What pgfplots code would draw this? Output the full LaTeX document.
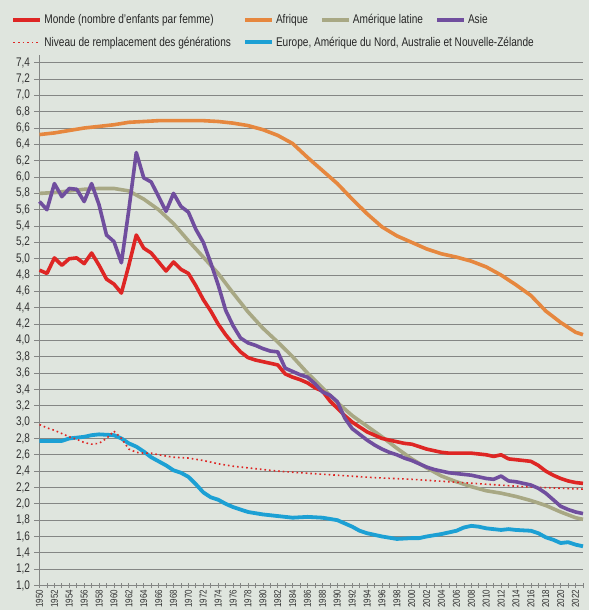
\documentclass[border=0pt]{standalone}
\usepackage{pgfplots}
\pgfplotsset{compat=1.18}
\usepackage{pgfplotstable}
\usepackage{fontspec}
\setmainfont[FakeStretch=0.8]{Liberation Sans}
\definecolor{bg}{RGB}{223,229,222}
\definecolor{gridc}{RGB}{132,134,132}
\definecolor{cred}{RGB}{222,38,36}
\definecolor{corange}{RGB}{230,135,62}
\definecolor{ckhaki}{RGB}{168,168,132}
\definecolor{cpurple}{RGB}{112,78,158}
\definecolor{cblue}{RGB}{28,160,212}
\definecolor{txt}{RGB}{50,50,50}

\pgfplotstableread{
year val
1950 4.86
1951 4.82
1952 5.01
1953 4.92
1954 5.00
1955 5.01
1956 4.94
1957 5.07
1958 4.92
1959 4.75
1960 4.69
1961 4.58
1962 4.92
1963 5.29
1964 5.13
1965 5.07
1966 4.96
1967 4.85
1968 4.96
1969 4.87
1970 4.82
1971 4.67
1972 4.50
1973 4.36
1974 4.20
1975 4.07
1976 3.96
1977 3.86
1978 3.79
1979 3.76
1980 3.74
1981 3.72
1982 3.70
1983 3.59
1984 3.55
1985 3.52
1986 3.48
1987 3.42
1988 3.38
1989 3.26
1990 3.17
1991 3.08
1992 3.00
1993 2.94
1994 2.88
1995 2.84
1996 2.80
1997 2.78
1998 2.76
1999 2.74
2000 2.73
2001 2.70
2002 2.67
2003 2.65
2004 2.63
2005 2.62
2006 2.62
2007 2.62
2008 2.62
2009 2.61
2010 2.60
2011 2.58
2012 2.60
2013 2.55
2014 2.54
2015 2.53
2016 2.52
2017 2.47
2018 2.40
2019 2.35
2020 2.31
2021 2.28
2022 2.26
2023 2.25
}\world

\pgfplotstableread{
year val
1950 6.52
1952 6.54
1954 6.57
1956 6.60
1958 6.62
1960 6.64
1962 6.67
1964 6.68
1966 6.69
1968 6.69
1970 6.69
1972 6.69
1974 6.68
1976 6.66
1978 6.63
1980 6.58
1982 6.51
1984 6.41
1986 6.24
1988 6.08
1990 5.92
1992 5.73
1994 5.55
1996 5.39
1998 5.28
2000 5.20
2002 5.12
2004 5.06
2006 5.02
2008 4.97
2010 4.90
2012 4.80
2014 4.68
2016 4.55
2018 4.36
2020 4.22
2022 4.10
2023 4.07
}\africa

\pgfplotstableread{
year val
1950 5.80
1952 5.81
1954 5.83
1956 5.85
1958 5.86
1960 5.86
1962 5.83
1964 5.73
1966 5.60
1968 5.43
1970 5.22
1972 5.02
1974 4.82
1976 4.58
1978 4.35
1980 4.15
1982 3.98
1984 3.80
1986 3.60
1988 3.42
1990 3.24
1992 3.08
1994 2.95
1996 2.82
1998 2.68
2000 2.55
2002 2.44
2004 2.34
2006 2.27
2008 2.21
2010 2.16
2012 2.13
2014 2.09
2016 2.04
2018 1.98
2020 1.90
2022 1.83
2023 1.81
}\latam

\pgfplotstableread{
year val
1950 5.70
1951 5.60
1952 5.92
1953 5.76
1954 5.86
1955 5.85
1956 5.70
1957 5.92
1958 5.66
1959 5.29
1960 5.21
1961 4.95
1962 5.60
1963 6.30
1964 5.99
1965 5.94
1966 5.76
1967 5.58
1968 5.80
1969 5.64
1970 5.57
1971 5.36
1972 5.20
1973 4.95
1974 4.68
1975 4.37
1976 4.18
1977 4.03
1978 3.97
1979 3.94
1980 3.90
1981 3.87
1982 3.86
1983 3.66
1984 3.62
1985 3.58
1986 3.55
1987 3.47
1988 3.37
1989 3.33
1990 3.25
1991 3.05
1992 2.92
1993 2.85
1994 2.78
1995 2.72
1996 2.67
1997 2.63
1998 2.60
1999 2.56
2000 2.53
2001 2.49
2002 2.45
2003 2.42
2004 2.40
2005 2.38
2006 2.37
2007 2.36
2008 2.35
2009 2.33
2010 2.31
2011 2.30
2012 2.34
2013 2.28
2014 2.27
2015 2.25
2016 2.23
2017 2.19
2018 2.13
2019 2.05
2020 1.97
2021 1.93
2022 1.90
2023 1.88
}\asia

\pgfplotstableread{
year val
1950 2.77
1952 2.77
1953 2.77
1954 2.80
1956 2.82
1957 2.84
1958 2.85
1960 2.84
1961 2.80
1962 2.74
1963 2.70
1964 2.64
1965 2.57
1966 2.52
1967 2.47
1968 2.41
1969 2.38
1970 2.33
1971 2.24
1972 2.14
1973 2.08
1974 2.05
1975 2.00
1976 1.96
1977 1.93
1978 1.90
1980 1.87
1982 1.85
1984 1.83
1986 1.84
1988 1.83
1990 1.80
1991 1.76
1992 1.72
1993 1.67
1994 1.64
1995 1.62
1996 1.60
1998 1.57
2000 1.58
2001 1.58
2002 1.60
2004 1.63
2006 1.67
2007 1.71
2008 1.73
2009 1.72
2010 1.70
2012 1.68
2013 1.69
2014 1.68
2016 1.67
2017 1.64
2018 1.59
2019 1.56
2020 1.52
2021 1.53
2022 1.50
2023 1.48
}\europe

\pgfplotstableread{
year val
1950 2.97
1951 2.93
1952 2.90
1953 2.86
1954 2.82
1955 2.79
1956 2.75
1957 2.73
1958 2.74
1959 2.80
1960 2.89
1961 2.80
1962 2.67
1963 2.63
1964 2.62
1965 2.62
1966 2.60
1968 2.57
1970 2.56
1972 2.53
1974 2.49
1976 2.46
1978 2.44
1980 2.42
1982 2.40
1985 2.38
1990 2.35
1995 2.32
2000 2.30
2005 2.27
2010 2.24
2015 2.21
2020 2.19
2023 2.18
}\repl

\begin{document}
\begin{tikzpicture}
\fill[bg] (-39.5pt,-24.5pt) rectangle (549.5pt,585.5pt);
\useasboundingbox (-39.5pt,-24.5pt) rectangle (549.5pt,585.5pt);
\begin{axis}[
  at={(0pt,0pt)}, anchor=origin,
  scale only axis,
  width=543.5pt, height=531pt,
  xmin=1950, xmax=2023,
  ymin=1.0, ymax=7.5,
  axis lines=left,
  axis line style={-, draw=gridc, line width=1.2pt},
  xtick={1950,1952,...,2022},
  minor xtick={1951,1953,...,2023},
  ytick={1.0,1.2,...,7.45},
  ymajorgrids,
  major grid style={draw=gridc, line width=1.0pt},
  tick style={draw=gridc, line width=0.9pt},
  x tick style={draw=gridc, line width=0.7pt},
  xtick align=center,
  ytick align=outside,
  major tick length=5pt, minor tick length=5pt,
  /pgf/number format/assume math mode=true,
  yticklabel style={font=\fontsize{12.5}{13}\selectfont, text=txt,
    /pgf/number format/.cd, fixed, fixed zerofill, precision=1, use comma},
  xticklabel style={font=\fontsize{10}{10}\selectfont, text=txt, rotate=90, anchor=east,
    /pgf/number format/.cd, 1000 sep={}},
  yticklabel shift=1pt,
  xticklabel shift=-1.5pt,
  legend columns=4,
  legend cell align=left,
  legend style={at={(-0.052,1.080)}, anchor=north west, draw=none, fill=none,
    inner sep=0pt, font=\fontsize{12.6}{14}\selectfont, text=black!85,
    /tikz/every even column/.append style={column sep=10pt},
    row sep=8pt},
  legend image code/.code={\draw[#1] (0pt,0pt) -- (27pt,0pt);},
  clip=false,
]
\addplot[corange, line width=3.6pt, line join=round, forget plot] table[x=year,y=val]{\africa};
\addplot[ckhaki, line width=3.6pt, line join=round, forget plot] table[x=year,y=val]{\latam};
\addplot[cblue, line width=3.8pt, line join=round, forget plot] table[x=year,y=val]{\europe};
\addplot[cred, line width=1.6pt, dash pattern=on 1.6pt off 3pt, forget plot] table[x=year,y=val]{\repl};
\addplot[cred, line width=3.6pt, line join=round, forget plot] table[x=year,y=val]{\world};
\addplot[cpurple, line width=3.6pt, line join=round, forget plot] table[x=year,y=val]{\asia};

\addlegendimage{cred, line width=4pt}
\addlegendentry{Monde (nombre d’enfants par femme)}
\addlegendimage{corange, line width=4pt}
\addlegendentry{Afrique}
\addlegendimage{ckhaki, line width=4pt}
\addlegendentry{Amérique latine}
\addlegendimage{cpurple, line width=4pt}
\addlegendentry{Asie}
\addlegendimage{cred, line width=1.6pt, dash pattern=on 1.6pt off 3pt}
\addlegendentry{Niveau de remplacement des générations}
\addlegendimage{cblue, line width=4pt}
\addlegendentry{\makebox[0pt][l]{Europe, Amérique du Nord, Australie et Nouvelle-Zélande}}
\end{axis}
\end{tikzpicture}
\end{document}
